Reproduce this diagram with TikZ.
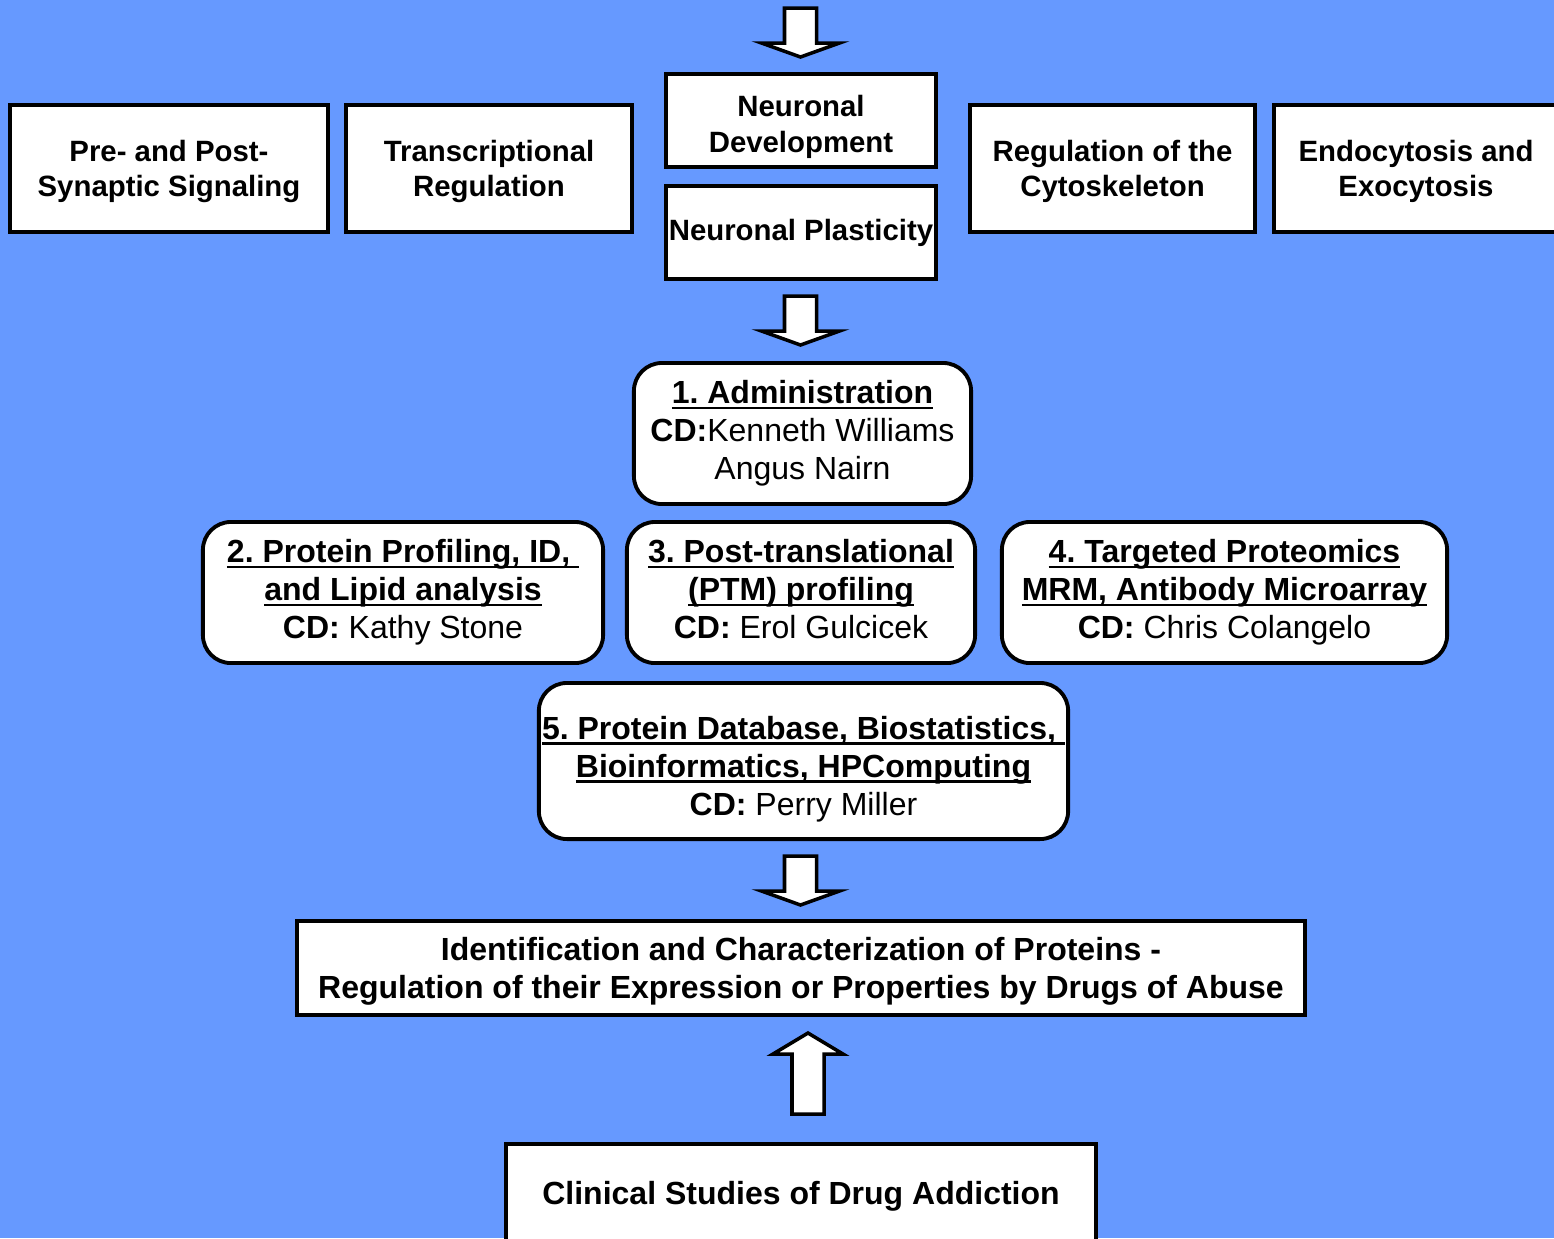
\documentclass[tikz,border=0pt]{standalone}
\usepackage{fontspec}
\setmainfont{Liberation Sans}
\usetikzlibrary{positioning}
\definecolor{bgblue}{RGB}{102,153,255}
\newsavebox\ulsave
\newcommand{\ulbold}[1]{\sbox\ulsave{#1}\rlap{\rule[-1.6pt]{\wd\ulsave}{0.8pt}}\usebox\ulsave}
\frenchspacing

\begin{document}
\begin{tikzpicture}[x=0.01cm, y=-0.01cm,
    topic/.style = {draw, fill=white, line width=1.1pt, align=center, inner sep=0pt, font=\fontsize{8.35}{10}\selectfont\bfseries},
    core/.style = {draw, fill=white, line width=1.1pt, rounded corners=0.28cm, align=center, inner sep=0pt, minimum height=1.41cm, font=\fontsize{9.1}{10.8}\selectfont},
    goal/.style = {draw, fill=white, line width=1.1pt, align=center, inner sep=0pt, font=\fontsize{9.1}{10.8}\selectfont\bfseries},
    downblock/.pic = {\draw[fill=white, line width=1pt] (-16,0) -- (-16,35) -- (-39,35) -- (0,49) -- (39,35) -- (16,35) -- (16,0) -- cycle;},
    upblock/.pic = {\draw[fill=white, line width=1pt] (-16,81) -- (-16,21) -- (-35,21) -- (0,0) -- (35,21) -- (16,21) -- (16,81) -- cycle;}]

    \fill[bgblue] (0,0) rectangle (1554,1238);
    \useasboundingbox (0,0) rectangle (1554,1238);

    % research areas
    \node[topic, text depth=0pt, minimum width=3.18cm, minimum height=1.27cm] (pre) at (169,168.5) {Pre- and Post-\\Synaptic Signaling};
    \node[topic, text depth=0pt, minimum width=2.86cm, minimum height=1.27cm] (trans) at (489,168.5) {Transcriptional\\Regulation};
    \node[topic, text depth=0pt, minimum width=2.70cm, minimum height=0.93cm] (devel) at (801,120.5) {\rule{0pt}{8pt}Neuronal\\Development};
    \node[topic, minimum width=2.70cm, minimum height=0.93cm, below=0.15cm of devel] (plast) {Neuronal Plasticity};
    \node[topic, text depth=0pt, minimum width=2.85cm, minimum height=1.27cm] (cyto) at (1112.5,168.5) {Regulation of the\\Cytoskeleton};
    \node[topic, text depth=0pt, minimum width=2.84cm, minimum height=1.27cm] (endo) at (1416,168.5) {Endocytosis and\\Exocytosis};

    % cores
    \node[core, minimum width=3.37cm] (admin) at (802.5,433.5) {\textbf{\ulbold{1. Administration}}\\\textbf{CD:}Kenneth Williams\\Angus Nairn};
    \node[core, minimum width=4.00cm] (prof) at (403,592.5) {\textbf{\ulbold{2. Protein Profiling, ID,\ }}\\\textbf{\ulbold{and Lipid analysis}}\\\textbf{CD:} Kathy Stone};
    \node[core, minimum width=3.48cm] (ptm) at (801,592.5) {\textbf{\ulbold{3. Post-translational}}\\\textbf{\ulbold{(PTM) profiling}}\\\textbf{CD:} Erol Gulcicek\vphantom{g}};
    \node[core, minimum width=4.45cm] (targ) at (1224.5,592.5) {\textbf{\ulbold{4. Targeted Proteomics}}\\\textbf{\ulbold{MRM, Antibody Microarray}}\\\textbf{CD:} Chris Colangelo};
    \node[core, minimum width=5.29cm, minimum height=1.56cm] (bioinf) at (803.5,761) {\rule{0pt}{11pt}\textbf{\ulbold{5. Protein Database, Biostatistics,\ }}\\\textbf{\ulbold{Bioinformatics, HPComputing}}\\\textbf{CD:} Perry Miller};

    % outcome and clinical side
    \node[goal, text depth=0pt, minimum width=10.08cm, minimum height=0.94cm] (ident) at (801,968) {Identification and Characterization of Proteins -\\Regulation of their Expression or Properties by Drugs of Abuse};
    \node[goal, minimum width=5.90cm, minimum height=1.04cm] (clin) at (801,1196) {Clinical Studies of Drug Addiction};

    % block arrows
    \pic (in1) at (800.5,8) {downblock};
    \pic (in2) at (800.5,296) {downblock};
    \pic (in3) at (800.5,856) {downblock};
    \pic (up) at (808,1033) {upblock};
\end{tikzpicture}
\end{document}
